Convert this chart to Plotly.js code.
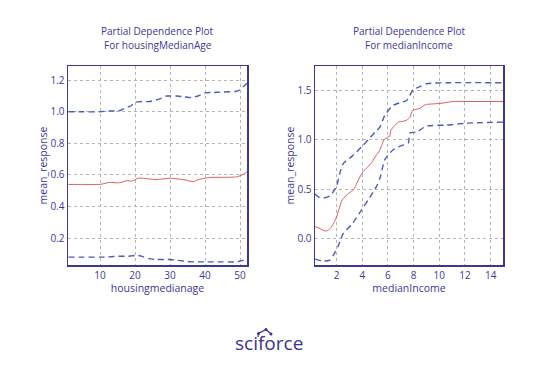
<!DOCTYPE html>
<html><head><meta charset="utf-8">
<script src="https://cdn.plot.ly/plotly-3.0.1.min.js"></script>
<style>html,body{margin:0;padding:0;background:#fff}#c{width:540px;height:378px}</style>
</head><body><div id="c"></div>
<script>
// housingMedianAge panel
const ageX = [1,5,10,12,13,15,16,17,18,19,20,21,22,24,26,28,29,30,32,34,36,37,38,40,42,45,49,50,51,52];
const ageMean = [0.54,0.54,0.54,0.55,0.553,0.55,0.553,0.56,0.565,0.56,0.57,0.58,0.58,0.575,0.57,0.575,0.578,0.58,0.575,0.57,0.56,0.56,0.57,0.58,0.585,0.585,0.588,0.595,0.605,0.62];
const ageUpper = [1.0,1.0,1.0,1.005,1.005,1.005,1.01,1.02,1.03,1.04,1.06,1.063,1.065,1.065,1.075,1.09,1.10,1.10,1.10,1.095,1.09,1.095,1.10,1.12,1.122,1.125,1.13,1.14,1.16,1.18];
const ageLower = [0.08,0.08,0.08,0.08,0.082,0.085,0.085,0.085,0.085,0.088,0.09,0.09,0.085,0.07,0.065,0.065,0.065,0.065,0.06,0.055,0.05,0.05,0.05,0.05,0.05,0.05,0.05,0.055,0.06,0.07];

// medianIncome panel
const incMeanX = [0.32,0.7,1.0,1.22,1.5,1.8,2.0,2.2,2.39,2.7,3.17,3.4,3.68,4.07,4.4,4.73,5.12,5.3,5.5,5.69,6.02,6.15,6.23,6.5,6.8,7.2,7.46,7.71,7.92,8.2,8.49,8.8,9.01,10.05,11.09,12,14.96];
const incMean = [0.12,0.10,0.08,0.075,0.10,0.16,0.22,0.30,0.38,0.43,0.48,0.51,0.59,0.68,0.72,0.77,0.85,0.88,0.94,1.0,1.03,1.04,1.10,1.14,1.18,1.19,1.20,1.23,1.30,1.31,1.32,1.35,1.36,1.37,1.39,1.39,1.39];
const incUpperX = [0.32,0.6,0.96,1.48,2.0,2.25,2.52,3.17,3.95,4.46,5.0,5.37,5.76,6.41,7.0,7.46,7.97,8.5,9.01,10.57,14.96];
const incUpper = [0.45,0.42,0.41,0.43,0.53,0.66,0.76,0.83,0.93,1.0,1.08,1.13,1.25,1.35,1.38,1.40,1.51,1.54,1.57,1.58,1.58];
const incLowerX = [0.32,0.96,1.48,1.8,2.12,2.52,3.17,3.95,4.46,5.12,5.4,5.76,6.41,7.2,7.59,7.71,8.23,9.01,10.57,12.13,14.96];
const incLower = [-0.21,-0.23,-0.22,-0.16,-0.08,0.05,0.14,0.29,0.39,0.53,0.62,0.80,0.90,0.95,0.97,1.07,1.08,1.14,1.15,1.17,1.18];

const leftTitle = ['Partial Dependence Plot','For housingMedianAge'];
const rightTitle = ['Partial Dependence Plot','For medianIncome'];

const ink = '#3d3795';
const blue = '#4a5cc0';
const red = '#de5b5b';
const font = 'Open Sans';

function line(x,y,xa,ya,color,dash,w){
  return {x:x,y:y,xaxis:xa,yaxis:ya,type:'scatter',mode:'lines',
    line:{color:color,dash:dash,width:w,shape:'spline',smoothing:0.6},hoverinfo:'skip',showlegend:false};
}
const dsh = '6px,4px';
const data = [
  line(ageX,ageUpper,'x','y',blue,dsh,1.4),
  line(ageX,ageLower,'x','y',blue,dsh,1.4),
  line(ageX,ageMean,'x','y',red,'solid',1),
  line(incUpperX,incUpper,'x2','y2',blue,dsh,1.4),
  line(incLowerX,incLower,'x2','y2',blue,dsh,1.4),
  line(incMeanX,incMean,'x2','y2',red,'solid',1)
];

function ax(extra){
  return Object.assign({showline:true,mirror:true,linecolor:ink,linewidth:1.5,
    showgrid:true,gridcolor:'#b4b4b4',griddash:'3px,3px',gridwidth:1,zeroline:false,
    ticks:'',automargin:false,tickfont:{family:font,size:10,color:ink},
    fixedrange:true},extra);
}
const W=540,H=378;
const px=x=>x/W, py=y=>1-y/H;
const ann=(t,x,y,s,c)=>({text:t,x:px(x),y:py(y),xref:'paper',yref:'paper',xanchor:'center',yanchor:'middle',showarrow:false,font:{family:font,size:s,color:c||ink}});

const layout = {
  width:W,height:H,margin:{l:0,r:0,t:0,b:0},
  paper_bgcolor:'#fff',plot_bgcolor:'#fff',showlegend:false,
  xaxis: ax({domain:[px(68),px(247)],range:[0.85,52],tickvals:[10,20,30,40,50],
    title:{text:'housingmedianage',font:{family:font,size:10.5,color:ink},standoff:2},anchor:'y'}),
  yaxis: ax({domain:[py(265),py(66)],range:[0.03,1.29],tickvals:[0.2,0.4,0.6,0.8,1.0,1.2],ticktext:['0.2','0.4','0.6','0.8','1.0','1.2'],
    title:{text:'mean_response',font:{family:font,size:10.5,color:ink},standoff:1},anchor:'x'}),
  xaxis2: ax({domain:[px(315),px(503)],range:[0.32,14.96],tickvals:[2,4,6,8,10,12,14],
    title:{text:'medianIncome',font:{family:font,size:10.5,color:ink},standoff:2},anchor:'y2'}),
  yaxis2: ax({domain:[py(265),py(66)],range:[-0.27,1.75],tickvals:[0,0.5,1.0,1.5],ticktext:['0.0','0.5','1.0','1.5'],
    title:{text:'mean_response',font:{family:font,size:10.5,color:ink},standoff:1},anchor:'x2'}),
  annotations:[
    ann(leftTitle[0],157.5,31,10),
    ann(leftTitle[1],157.5,45,10),
    ann(rightTitle[0],409,31,10),
    ann(rightTitle[1],409,45,10),
    ann('sciforce',269,343,19,'#3b3392')
  ],
  shapes:[
    {type:'path',xref:'paper',yref:'paper',path:`M ${px(258)} ${py(337)} L ${px(258.5)} ${py(333.5)} L ${px(266)} ${py(329.5)} L ${px(271)} ${py(334)}`,line:{color:'#3b3392',width:1.2}},
    {type:'circle',xref:'paper',yref:'paper',x0:px(257),x1:px(260),y0:py(335),y1:py(332),fillcolor:'#3b3392',line:{width:0}},
    {type:'circle',xref:'paper',yref:'paper',x0:px(264.5),x1:px(267.5),y0:py(331),y1:py(328),fillcolor:'#3b3392',line:{width:0}},
    {type:'circle',xref:'paper',yref:'paper',x0:px(269.5),x1:px(272.5),y0:py(335.5),y1:py(332.5),fillcolor:'#3b3392',line:{width:0}}
  ]
};
Plotly.newPlot('c',data,layout,{staticPlot:true,displayModeBar:false});
</script></body></html>
